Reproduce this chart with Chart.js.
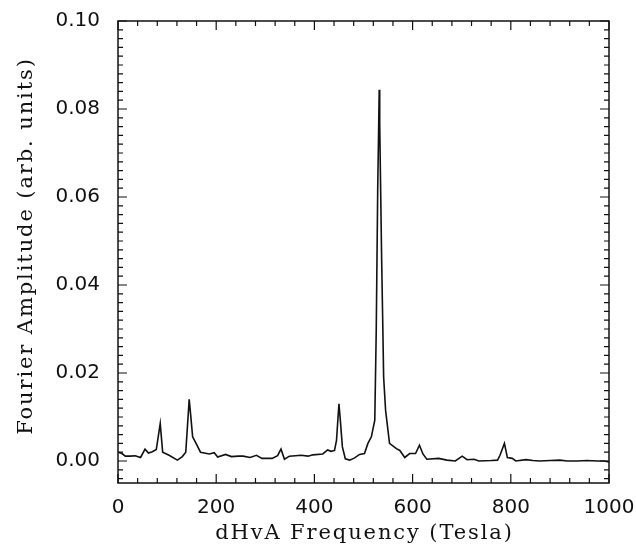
<!DOCTYPE html>
<html>
<head>
<meta charset="utf-8">
<script src="https://cdn.jsdelivr.net/npm/chart.js@4.4.1/dist/chart.umd.min.js"></script>
<style>
  html, body { margin: 0; padding: 0; background: #fff; }
  #wrap { width: 636px; height: 544px; }
</style>
</head>
<body>
<div id="wrap"><canvas id="myChart" width="636" height="544"></canvas></div>
<script>
// dHvA spectrum
let freq = [0, 8, 15, 25, 35, 46, 55, 62, 70, 78, 86, 91, 104, 121, 131, 138, 145, 148, 152, 159,
  168, 186, 196, 203, 219, 231, 245, 255, 269, 282, 293, 314, 325, 332, 339, 349, 373, 387, 397, 417,
  427, 434, 441, 445, 450, 453, 457, 463, 472, 482, 492, 502, 509, 516, 523, 526, 529, 531, 532, 533,
  535, 537, 539, 541, 545, 553, 567, 574, 584, 594, 606, 614, 621, 629, 653, 670, 687, 701, 711, 725,
  735, 760, 773, 778, 787, 793, 803, 810, 831, 845, 859, 880, 900, 915, 935, 955, 976, 990, 1000];
let amp = [0.0020, 0.0017, 0.0011, 0.0011, 0.0012, 0.0008, 0.0027, 0.0018, 0.0021, 0.0026, 0.0085, 0.0020, 0.0013, 0.0002, 0.0010, 0.0020, 0.0140, 0.0105, 0.0055, 0.0040,
  0.0020, 0.0016, 0.0019, 0.0009, 0.0015, 0.0010, 0.0011, 0.0011, 0.0008, 0.0013, 0.0006, 0.0006, 0.0012, 0.0027, 0.0004, 0.0011, 0.0013, 0.0011, 0.0014, 0.0016,
  0.0025, 0.0022, 0.0024, 0.0047, 0.0130, 0.0090, 0.0032, 0.0005, 0.0002, 0.0007, 0.0015, 0.0017, 0.0040, 0.0055, 0.0093, 0.0300, 0.0623, 0.0767, 0.0844, 0.0767,
  0.0610, 0.0456, 0.0327, 0.0191, 0.0115, 0.0040, 0.0028, 0.0024, 0.0008, 0.0017, 0.0017, 0.0036, 0.0016, 0.0004, 0.0006, 0.0002, 0.0000, 0.0011, 0.0003, 0.0004,
  0.0000, 0.0001, 0.0002, 0.0013, 0.0040, 0.0008, 0.0006, 0.0000, 0.0003, 0.0001, 0.0000, 0.0001, 0.0002, 0.0000, 0.0000, 0.0001, 0.0000, 0.0000, -0.0002];

let xTicks = [0, 200, 400, 600, 800, 1000];
let yTicks = [0.00, 0.02, 0.04, 0.06, 0.08, 0.10];
let xMinorStep = 40;
let yMinorStep = 0.002;
let xTitle = 'dHvA Frequency (Tesla)';
let yTitle = 'Fourier Amplitude (arb. units)';

const ink = '#111';

// frame with inward tick marks on all four sides, plus spaced-out axis titles
const frame = {
  id: 'frame',
  afterDatasetsDraw(chart) {
    const {ctx, chartArea: a, scales: {x, y}} = chart;
    ctx.save();
    ctx.strokeStyle = ink;
    ctx.lineWidth = 1.5;
    ctx.strokeRect(a.left, a.top, a.right - a.left, a.bottom - a.top);
    ctx.lineWidth = 1.2;
    ctx.beginPath();
    for (let v = 0; v <= 1000 + 1e-6; v += xMinorStep) {
      const px = x.getPixelForValue(v);
      const len = (Math.round(v) % 200 === 0) ? 9 : 5;
      ctx.moveTo(px, a.bottom); ctx.lineTo(px, a.bottom - len);
      ctx.moveTo(px, a.top); ctx.lineTo(px, a.top + len);
    }
    for (let i = -2; i <= 50; i++) {
      const py = y.getPixelForValue(i * yMinorStep);
      if (py > a.bottom + 0.5 || py < a.top - 0.5) continue;
      const len = (i % 10 === 0) ? 9 : 5;
      ctx.moveTo(a.left, py); ctx.lineTo(a.left + len, py);
      ctx.moveTo(a.right, py); ctx.lineTo(a.right - len, py);
    }
    ctx.stroke();

    ctx.fillStyle = ink;
    ctx.font = '21px "DejaVu Serif"';
    ctx.letterSpacing = '1.9px';
    ctx.textAlign = 'center';
    ctx.textBaseline = 'middle';
    ctx.fillText(xTitle, (a.left + a.right) / 2 + 1, 534);
    ctx.translate(27, 246);
    ctx.rotate(-Math.PI / 2);
    ctx.fillText(yTitle, 0, 0);
    ctx.restore();
  }
};

let myChart = document.getElementById('myChart').getContext('2d');

let lineChart = new Chart(myChart, {
  type: 'line',
  data: {
    datasets: [{
      data: freq.map((f, i) => ({x: f, y: amp[i]})),
      borderColor: ink,
      borderWidth: 1.6,
      pointRadius: 0,
      tension: 0,
      fill: false
    }]
  },
  options: {
    responsive: false,
    animation: false,
    layout: { padding: { top: 21, right: 27, left: 0, bottom: 0 } },
    plugins: {
      legend: { display: false },
      tooltip: { enabled: false }
    },
    scales: {
      x: {
        type: 'linear',
        min: 0,
        max: 1000,
        afterBuildTicks: s => { s.ticks = xTicks.map(v => ({value: v})); },
        afterFit: s => { s.height = 61; s.paddingLeft = 0; s.paddingRight = 0; },
        grid: { display: false, drawTicks: false },
        border: { display: false },
        ticks: {
          padding: 13,
          color: ink,
          font: { family: 'DejaVu Sans', size: 20 },
          maxRotation: 0,
          callback: v => String(v)
        }
      },
      y: {
        type: 'linear',
        min: -0.005,
        max: 0.10,
        afterBuildTicks: s => { s.ticks = yTicks.map(v => ({value: v})); },
        afterFit: s => { s.width = 118; s.paddingTop = 0; s.paddingBottom = 0; },
        grid: { display: false, drawTicks: false },
        border: { display: false },
        ticks: {
          padding: 18,
          color: ink,
          font: { family: 'DejaVu Sans', size: 20 },
          callback: v => v.toFixed(2)
        }
      }
    }
  },
  plugins: [frame]
});
</script>
</body>
</html>
